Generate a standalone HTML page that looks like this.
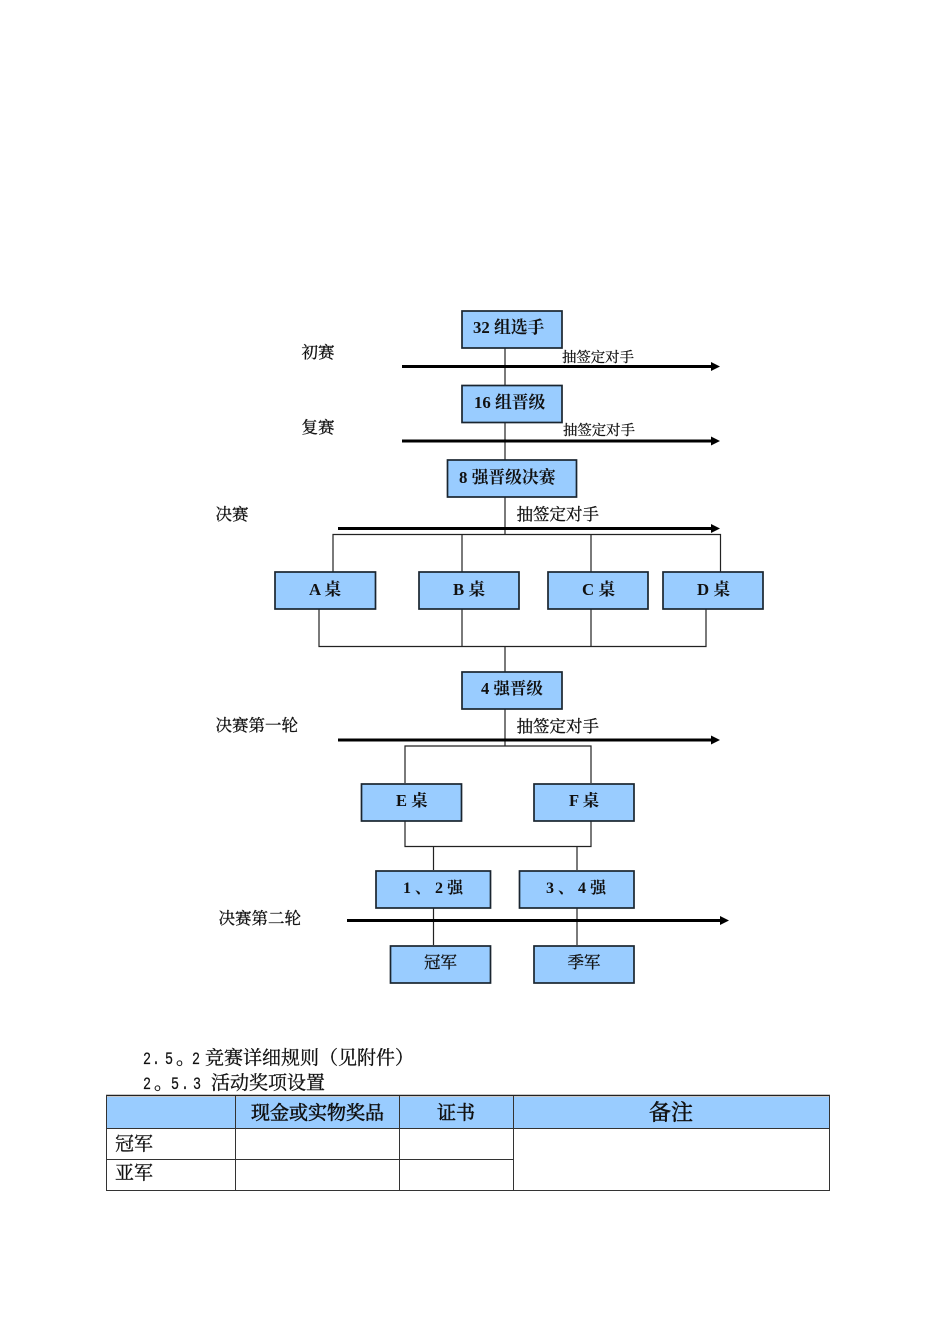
<!DOCTYPE html>
<html><head><meta charset="utf-8"><style>
html,body{margin:0;padding:0;background:#fff}
svg{display:block}
text{font-family:"Liberation Serif","Noto Serif CJK SC",serif;fill:#111}
.b{font-weight:700;font-size:16.8px}
.b2{font-size:16px}
.l{font-size:16.5px;stroke:#111;stroke-width:.3}
.s{font-size:14.400px;stroke:#111;stroke-width:.25}
.m{font-size:17.500px;font-family:"Liberation Mono",monospace;stroke:#111;stroke-width:.2}
.t{font-size:19px;font-family:"Noto Serif CJK SC",serif;stroke:#111;stroke-width:.3}
.h{stroke-width:.55}
rect.n{fill:#99ccff;stroke:#1a2530;stroke-width:1.700}
.c{stroke:#222;stroke-width:1.200;fill:none}
.a{stroke:#000;stroke-width:3;fill:none}
.g{stroke:#333;stroke-width:1;fill:none}
</style></head><body>
<svg width="950" height="1344" viewBox="0 0 950 1344" xmlns="http://www.w3.org/2000/svg">
<rect width="950" height="1344" fill="#fff"/>
<path class="c" d="M505 348V385M505 422V460M505 497V534.500M333 572V534.500H720.500V572M462 534.500V572M591 534.500V572M319 609V646.500H706V609M462 609V646.500M591 609V646.500M505 646.500V672M505 709V746M405 783V746H591V783M405 821V846.500H591V821M433.500 846.500V870M577 846.500V870M433.500 908V945M577 908V945"/>
<g class="a">
<path d="M402 366.500H712M402 441H712M338 528.500H712M338 740H712M347 920.500H721"/>
</g>
<g fill="#000">
<path d="M711 362L720 366.500L711 371Z"/><path d="M711 436.500L720 441L711 445.500Z"/><path d="M711 524L720 528.500L711 533Z"/><path d="M711 735.500L720 740L711 744.500Z"/><path d="M720 916L729 920.500L720 925Z"/>
</g>
<rect class="n" x="462" y="311" width="100" height="37"/>
<rect class="n" x="462" y="385.500" width="100" height="37"/>
<rect class="n" x="447.500" y="460" width="129" height="37"/>
<rect class="n" x="275" y="572" width="100.500" height="37"/>
<rect class="n" x="419" y="572" width="100" height="37"/>
<rect class="n" x="548" y="572" width="100" height="37"/>
<rect class="n" x="663" y="572" width="100" height="37"/>
<rect class="n" x="462" y="672" width="100" height="37"/>
<rect class="n" x="361.500" y="784" width="100" height="37"/>
<rect class="n" x="534" y="784" width="100" height="37"/>
<rect class="n" x="376" y="871" width="114.500" height="37"/>
<rect class="n" x="519.500" y="871" width="114.500" height="37"/>
<rect class="n" x="390.500" y="946" width="100" height="37"/>
<rect class="n" x="534" y="946" width="100" height="37"/>
<text class="b" x="473" y="333">32 组选手</text>
<text class="b" x="474" y="408">16 组晋级</text>
<text class="b" x="459" y="483">8 强晋级决赛</text>
<text class="b" x="309" y="595">A 桌</text>
<text class="b" x="453" y="595">B 桌</text>
<text class="b" x="582" y="595">C 桌</text>
<text class="b" x="697" y="595">D 桌</text>
<text class="b b2" x="481" y="694" style="font-size:16.5px">4 强晋级</text>
<text class="b" x="396" y="806" style="font-size:16.5px">E 桌</text>
<text class="b" x="569" y="806" style="font-size:16.5px">F 桌</text>
<text class="b b2" x="403" y="893">1 、 2 强</text>
<text class="b b2" x="546" y="893">3 、 4 强</text>
<text class="l" x="424" y="968">冠军</text>
<text class="l" x="567.500" y="968">季军</text>
<text class="l" x="301.500" y="358">初赛</text>
<text class="l" x="301.500" y="433">复赛</text>
<text class="l" x="215.500" y="520">决赛</text>
<text class="l" x="215.500" y="731">决赛第一轮</text>
<text class="l" x="218.500" y="924">决赛第二轮</text>
<text class="s" x="562" y="362">抽签定对手</text>
<text class="s" x="563" y="435">抽签定对手</text>
<text class="l" x="516.500" y="520">抽签定对手</text>
<text class="l" x="516.500" y="732">抽签定对手</text>
<text class="m" x="143" y="1064" textLength="8" lengthAdjust="spacingAndGlyphs">2</text><text class="m" x="152" y="1064" textLength="8" lengthAdjust="spacingAndGlyphs">.</text><text class="m" x="165" y="1064" textLength="8" lengthAdjust="spacingAndGlyphs">5</text><text class="t" x="176" y="1064">。</text><text class="m" x="192" y="1064" textLength="8" lengthAdjust="spacingAndGlyphs">2</text>
<text class="t" x="205" y="1064">竞赛详细规则（见附件）</text>
<text class="m" x="143" y="1089" textLength="8" lengthAdjust="spacingAndGlyphs">2</text><text class="t" x="154" y="1089">。</text><text class="m" x="171" y="1089" textLength="8" lengthAdjust="spacingAndGlyphs">5</text><text class="m" x="181" y="1089" textLength="8" lengthAdjust="spacingAndGlyphs">.</text><text class="m" x="193" y="1089" textLength="8" lengthAdjust="spacingAndGlyphs">3</text>
<text class="t" x="211" y="1089">活动奖项设置</text>
<rect x="107" y="1097" width="722" height="31.500" fill="#99ccff"/>
<path d="M106 1095.500H830" stroke="#222" stroke-width="1.500"/>
<path class="g" d="M106 1128.500H829.500M106.500 1095V1191M829.500 1095V1191M235.500 1096V1191M399.500 1096V1191M513.500 1096V1191M106 1159.500H513.500M106 1190.500H830"/>
<text class="t h" x="251" y="1119">现金或实物奖品</text>
<text class="t h" x="437" y="1119">证书</text>
<text class="t h" x="649" y="1120" style="font-size:22px">备注</text>
<text class="t" x="115" y="1150">冠军</text>
<text class="t" x="115" y="1179">亚军</text>
</svg>
</body></html>
